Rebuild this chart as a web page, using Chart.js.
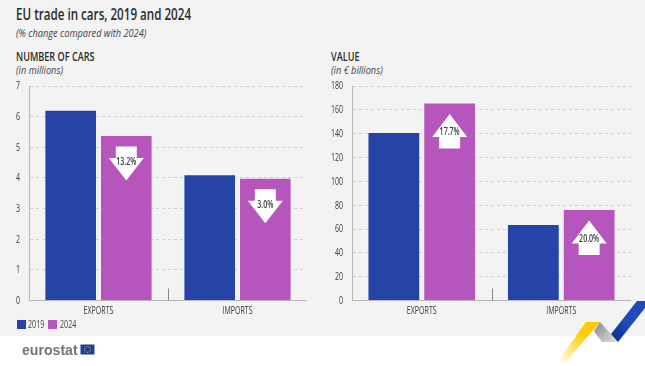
<!DOCTYPE html>
<html>
<head>
<meta charset="utf-8">
<title>EU trade in cars, 2019 and 2024</title>
<script src="https://cdn.jsdelivr.net/npm/chart.js@4"></script>
<style>
  html, body { margin: 0; padding: 0; background: #fff; }
  body { width: 645px; height: 366px; position: relative; overflow: hidden; color: #333; font-family: "Open Sans", sans-serif; }
  #panel { position: absolute; left: 0; top: 0; width: 645px; height: 336px; background: #f3f3f3; }
  .t { position: absolute; white-space: nowrap; line-height: 1; transform-origin: left center; }
  .main { left: 16px; top: 7px; font-size: 15.5px; font-weight: 600; color: #2b2b2b; transform: scaleX(0.75); }
  .sub { font-size: 10px; font-style: italic; color: #444; transform: scaleX(0.92); }
  .head { top: 50px; font-size: 13px; font-weight: 600; color: #2b2b2b; transform: scaleX(0.7); }
  canvas { position: absolute; }
  .swatch { position: absolute; top: 320px; width: 9px; height: 9px; }
  .leg { top: 319px; font-size: 10.5px; color: #444; transform: scaleX(0.68); }
  #logo { left: 22px; top: 342px; font-family: "Liberation Sans", sans-serif; font-size: 15.5px; font-weight: 700; color: #71767c; transform: scaleX(0.91); }
  svg { position: absolute; left: 0; top: 0; }
</style>
</head>
<body>
<div id="panel"></div>
<div class="t main">EU trade in cars, 2019 and 2024</div>
<div class="t sub" style="left:16px;top:28px">(% change compared with 2024)</div>
<div class="t head" style="left:16px">NUMBER OF CARS</div>
<div class="t sub" style="left:16px;top:65px">(in millions)</div>
<div class="t head" style="left:331px">VALUE</div>
<div class="t sub" style="left:331px;top:65px">(in € billions)</div>

<canvas id="carsChart" style="left:0;top:76px"></canvas>
<canvas id="valueChart" style="left:320px;top:76px"></canvas>

<div class="swatch" style="left:16.5px;background:#2644a7"></div>
<div class="t leg" style="left:28px">2019</div>
<div class="swatch" style="left:48px;background:#b656bd"></div>
<div class="t leg" style="left:60px">2024</div>

<div class="t" id="logo">eurostat</div>
<svg width="645" height="366">
  <defs>
    <linearGradient id="fade" x1="600" y1="322" x2="560" y2="364" gradientUnits="userSpaceOnUse">
      <stop offset="0.35" stop-color="#ffcc00"/>
      <stop offset="1" stop-color="#ffcc00" stop-opacity="0"/>
    </linearGradient>
    <linearGradient id="steel" x1="596" y1="325" x2="618" y2="342" gradientUnits="userSpaceOnUse">
      <stop offset="0" stop-color="#8f9296"/>
      <stop offset="1" stop-color="#e6e6e6"/>
    </linearGradient>
    <linearGradient id="deep" x1="612" y1="340" x2="640" y2="305" gradientUnits="userSpaceOnUse">
      <stop offset="0" stop-color="#0e2f86"/>
      <stop offset="0.5" stop-color="#1f49bd"/>
    </linearGradient>
  </defs>
  <rect x="80.5" y="344.5" width="14" height="10" fill="#1f3f94"/>
  <circle cx="87.5" cy="349.5" r="3" fill="none" stroke="#e9c93a" stroke-width="0.9" stroke-dasharray="1 1"/>
  <polygon points="586,322 600,322 564,364 556,364" fill="url(#fade)"/>
  <polygon points="600,322 618,342 602,342 594,331" fill="url(#steel)"/>
  <polygon points="637,301 645,301 645,308 618,342 611,334" fill="url(#deep)"/>
</svg>

<script>
const categories = ["EXPORTS", "IMPORTS"];
const years = ["2019", "2024"];
const colors = ["#2644a7", "#b656bd"];

const cars2019 = [6.19, 4.09];
const cars2024 = [5.37, 3.97];
const carsChange = ["13.2%", "3.0%"];
const carsDirection = ["down", "down"];

const value2019 = [140.6, 63.4];
const value2024 = [165.3, 75.9];
const valueChange = ["17.7%", "20.0%"];
const valueDirection = ["up", "up"];

// no condensed face is installed, so squeeze the text horizontally
function narrowText(c, text, x, y, align, weight) {
  c.save();
  c.translate(x, y);
  c.scale(0.67, 1);
  c.font = (weight || 400) + " 10.5px 'Open Sans', sans-serif";
  c.fillStyle = "#3a3a3a";
  c.textAlign = align;
  c.textBaseline = "middle";
  c.fillText(text, 0, 0);
  c.restore();
}

// white arrows sitting inside the 2024 bars, placed from the bar elements
function arrowPlugin(labels, directions) {
  return {
    id: "arrows",
    afterDatasetsDraw(chart) {
      const c = chart.ctx;
      chart.getDatasetMeta(1).data.forEach(function (bar, i) {
        const x = bar.x;
        const top = bar.y + 10.5;
        const up = directions[i] === "up";
        const y0 = up ? top + 34.5 : top;
        const tip = up ? top : top + 34;
        const neck = up ? top + 23 : top + 11.5;
        c.save();
        c.fillStyle = "#fff";
        c.beginPath();
        c.moveTo(x - 10.5, y0);
        c.lineTo(x + 10.5, y0);
        c.lineTo(x + 10.5, neck);
        c.lineTo(x + 17.5, neck);
        c.lineTo(x, tip);
        c.lineTo(x - 17.5, neck);
        c.lineTo(x - 10.5, neck);
        c.closePath();
        c.fill();
        c.restore();
        narrowText(c, labels[i], x, up ? top + 18 : top + 15.5, "center", 600);
      });
    },
  };
}

// axis labels come from the scales' own ticks, short divider between the groups
const axisPlugin = {
  id: "axisLabels",
  afterDraw(chart) {
    const c = chart.ctx;
    const a = chart.chartArea;
    chart.scales.y.ticks.forEach(function (t) {
      narrowText(c, String(t.value), a.left - 9, chart.scales.y.getPixelForValue(t.value) + 0.5, "right");
    });
    chart.scales.x.ticks.forEach(function (t, i) {
      narrowText(c, categories[i], chart.scales.x.getPixelForTick(i), a.bottom + 11, "center");
    });
    const x = Math.round((a.left + a.right) / 2) + 0.5;
    c.save();
    c.strokeStyle = "#8a8a8a";
    c.lineWidth = 1;
    c.beginPath();
    c.moveTo(x, a.bottom - 12);
    c.lineTo(x, a.bottom);
    c.stroke();
    c.restore();
  },
};

function makeChart(id, width, axisWidth, first, second, max, step, labels, directions) {
  const el = document.getElementById(id);
  el.width = width;
  el.height = 250;
  return new Chart(el, {
    type: "bar",
    data: {
      labels: categories,
      datasets: [
        { label: years[0], data: first, backgroundColor: colors[0] },
        { label: years[1], data: second, backgroundColor: colors[1] },
      ],
    },
    options: {
      responsive: false,
      animation: false,
      layout: { padding: { top: 10, right: 0, left: 0, bottom: 0 } },
      categoryPercentage: 0.8,
      barPercentage: 0.91,
      plugins: { legend: { display: false }, tooltip: { enabled: false } },
      scales: {
        x: {
          grid: { display: false },
          border: { color: "#b5b5b5" },
          ticks: { display: false },
          afterFit: function (s) { s.height = 25.5; },
        },
        y: {
          min: 0,
          max: max,
          grid: { color: "#d0d0d0", lineWidth: 1, drawTicks: false },
          border: { color: "#b5b5b5", dash: [3, 3] },
          ticks: { display: false, stepSize: step },
          afterFit: function (s) { s.width = axisWidth; },
        },
      },
    },
    plugins: [arrowPlugin(labels, directions), axisPlugin],
  });
}

makeChart("carsChart", 307, 29, cars2019, cars2024, 7, 1, carsChange, carsDirection);
makeChart("valueChart", 311, 32, value2019, value2024, 180, 20, valueChange, valueDirection);
</script>
</body>
</html>
